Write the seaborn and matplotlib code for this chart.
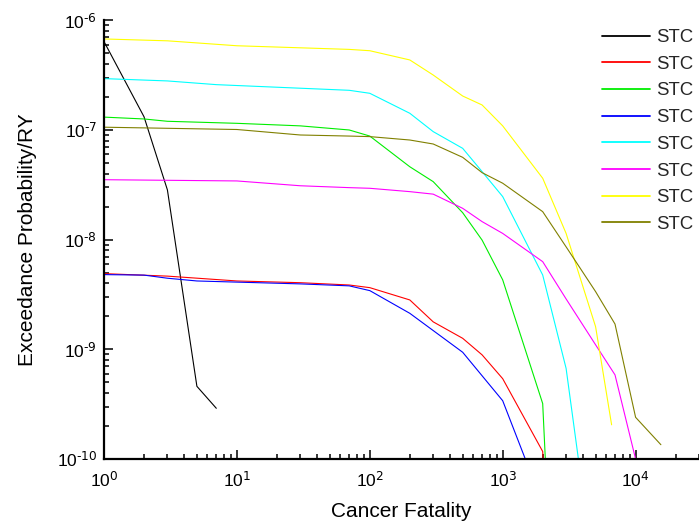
import numpy as np
import pandas as pd
import matplotlib
matplotlib.use("Agg")
import matplotlib.pyplot as plt
import seaborn as sns

# Complementary cumulative distributions of cancer fatalities per source term category
series_names = ["STC 1", "STC 2", "STC 3", "STC 4", "STC 5", "STC 6", "STC 7", "STC 8"]
legend_labels = ["STC"] * 8
series_colors = ["#000000", "#ff0000", "#00ee00", "#0000ff", "#00ffff", "#ff00ff", "#ffff00", "#808000"]

stc1_x = [1, 2, 3, 5, 7]
stc1_y = [6.4e-7, 1.32e-7, 2.84e-8, 4.6e-10, 2.9e-10]

stc2_x = [1, 3, 10, 30, 70, 100, 200, 300, 500, 700, 1000, 2000, 3000]
stc2_y = [4.9e-9, 4.65e-9, 4.2e-9, 4.05e-9, 3.86e-9, 3.65e-9, 2.82e-9, 1.78e-9,
          1.26e-9, 8.9e-10, 5.4e-10, 1.17e-10, 1e-14]

stc3_x = [1, 2, 3, 10, 30, 70, 100, 200, 300, 500, 700, 1000, 2000, 3000]
stc3_y = [1.31e-7, 1.26e-7, 1.2e-7, 1.15e-7, 1.09e-7, 1.0e-7, 8.8e-8, 4.62e-8,
          3.38e-8, 1.76e-8, 9.9e-9, 4.3e-9, 3.2e-10, 1e-14]

stc4_x = [1, 2, 3, 5, 10, 30, 70, 100, 200, 500, 1000, 2000]
stc4_y = [4.8e-9, 4.75e-9, 4.45e-9, 4.2e-9, 4.1e-9, 3.95e-9, 3.79e-9, 3.43e-9,
          2.13e-9, 9.4e-10, 3.4e-10, 3.9e-11]

stc5_x = [1, 3, 7, 70, 100, 200, 300, 500, 700, 1000, 2000, 3000, 5000]
stc5_y = [2.94e-7, 2.8e-7, 2.59e-7, 2.3e-7, 2.16e-7, 1.42e-7, 9.66e-8, 6.8e-8,
          4.17e-8, 2.47e-8, 4.76e-9, 6.7e-10, 7e-12]

stc6_x = [1, 10, 30, 70, 100, 200, 300, 500, 700, 1000, 2000, 3000, 5000, 7000, 10000]
stc6_y = [3.52e-8, 3.43e-8, 3.1e-8, 2.98e-8, 2.94e-8, 2.74e-8, 2.6e-8, 1.93e-8,
          1.46e-8, 1.14e-8, 6.3e-9, 2.88e-9, 1.1e-9, 5.85e-10, 1.0e-10]

stc7_x = [1, 3, 10, 70, 100, 200, 300, 500, 700, 1000, 2000, 3000, 5000, 6600]
stc7_y = [6.76e-7, 6.5e-7, 5.86e-7, 5.43e-7, 5.28e-7, 4.35e-7, 3.17e-7, 2.04e-7,
          1.69e-7, 1.09e-7, 3.63e-8, 1.14e-8, 1.61e-9, 2.05e-10]

stc8_x = [1, 10, 30, 70, 100, 200, 300, 500, 700, 1000, 2000, 3000, 5000, 7000, 10000, 15500]
stc8_y = [1.06e-7, 1.01e-7, 9.0e-8, 8.8e-8, 8.7e-8, 8.1e-8, 7.45e-8, 5.63e-8,
          4.08e-8, 3.27e-8, 1.8e-8, 8.6e-9, 3.36e-9, 1.7e-9, 2.4e-10, 1.35e-10]

x_lists = [stc1_x, stc2_x, stc3_x, stc4_x, stc5_x, stc6_x, stc7_x, stc8_x]
y_lists = [stc1_y, stc2_y, stc3_y, stc4_y, stc5_y, stc6_y, stc7_y, stc8_y]

x_major = [1, 10, 100, 1000, 10000]
y_major = [1e-10, 1e-9, 1e-8, 1e-7, 1e-6]

frames = []
for name, xs, ys in zip(series_names, x_lists, y_lists):
    frames.append(pd.DataFrame({"fatality": xs, "prob": ys, "series": name}))
df = pd.concat(frames, ignore_index=True)

sns.set_theme(style="white")
plt.rcParams["font.family"] = ["Liberation Sans", "DejaVu Sans"]
plt.rcParams["mathtext.default"] = "regular"
plt.rcParams["axes.unicode_minus"] = False

W, H = 699, 528
fig = plt.figure(figsize=(W / 100, H / 100), dpi=100)
left, right, top, bottom = 104, 699, 20.3, 459
ax = fig.add_axes([left / W, (H - bottom) / H, (right - left) / W, (bottom - top) / H])

sns.lineplot(data=df, x="fatality", y="prob", hue="series", hue_order=series_names,
             palette=dict(zip(series_names, series_colors)), estimator=None,
             sort=False, linewidth=0.8, ax=ax)

ax.set_xscale("log")
ax.set_yscale("log")
ax.set_xlim(1, 3e4)
ax.set_ylim(1e-10, 1e-6)

for side in ["top", "right"]:
    ax.spines[side].set_visible(False)
for side in ["left", "bottom"]:
    ax.spines[side].set_color("black")
    ax.spines[side].set_linewidth(1.6)


def power_label(value, pos):
    exp = int(round(np.log10(value)))
    return r"$10^{\text{%d}}$" % exp


# minor ticks at 2..9 times each decade, kept inside the axis limits
x_minor = [m * d for d in [1, 10, 100, 1000, 10000] for m in range(2, 10) if m * d <= 3e4]
y_minor = [m * d for d in y_major[:-1] for m in range(2, 10)]

ax.xaxis.set_major_locator(matplotlib.ticker.FixedLocator(x_major))
ax.xaxis.set_minor_locator(matplotlib.ticker.FixedLocator(x_minor))
ax.yaxis.set_major_locator(matplotlib.ticker.FixedLocator(y_major))
ax.yaxis.set_minor_locator(matplotlib.ticker.FixedLocator(y_minor))
ax.xaxis.set_major_formatter(matplotlib.ticker.FuncFormatter(power_label))
ax.yaxis.set_major_formatter(matplotlib.ticker.FuncFormatter(power_label))
ax.xaxis.set_minor_formatter(matplotlib.ticker.NullFormatter())
ax.yaxis.set_minor_formatter(matplotlib.ticker.NullFormatter())

ax.tick_params(which="both", direction="in", color="black", width=1.1,
               bottom=True, left=True, top=False, right=False)
ax.tick_params(which="major", length=6.5, labelsize=12.5, colors="black")
ax.tick_params(which="minor", length=3.6)
ax.tick_params(axis="x", which="major", pad=8)
ax.tick_params(axis="y", which="major", pad=5)

ax.set_xlabel("Cancer Fatality", fontsize=15, color="black")
ax.set_ylabel("Exceedance Probability/RY", fontsize=15, color="black")
ax.xaxis.set_label_coords(0.5, -0.098)
ax.yaxis.set_label_coords(-0.112, 0.5)

handles, _ = ax.get_legend_handles_labels()
for h in handles:
    h.set_linewidth(1.3)
ax.legend(handles, legend_labels, loc="upper left", bbox_to_anchor=(601.7 / W, (H - 29) / H),
          bbox_transform=fig.transFigure, frameon=False, fontsize=13.4,
          handlelength=2.6, handletextpad=0.32, labelspacing=0.52,
          borderpad=0, borderaxespad=0)

fig.savefig("out.png", dpi=100)
